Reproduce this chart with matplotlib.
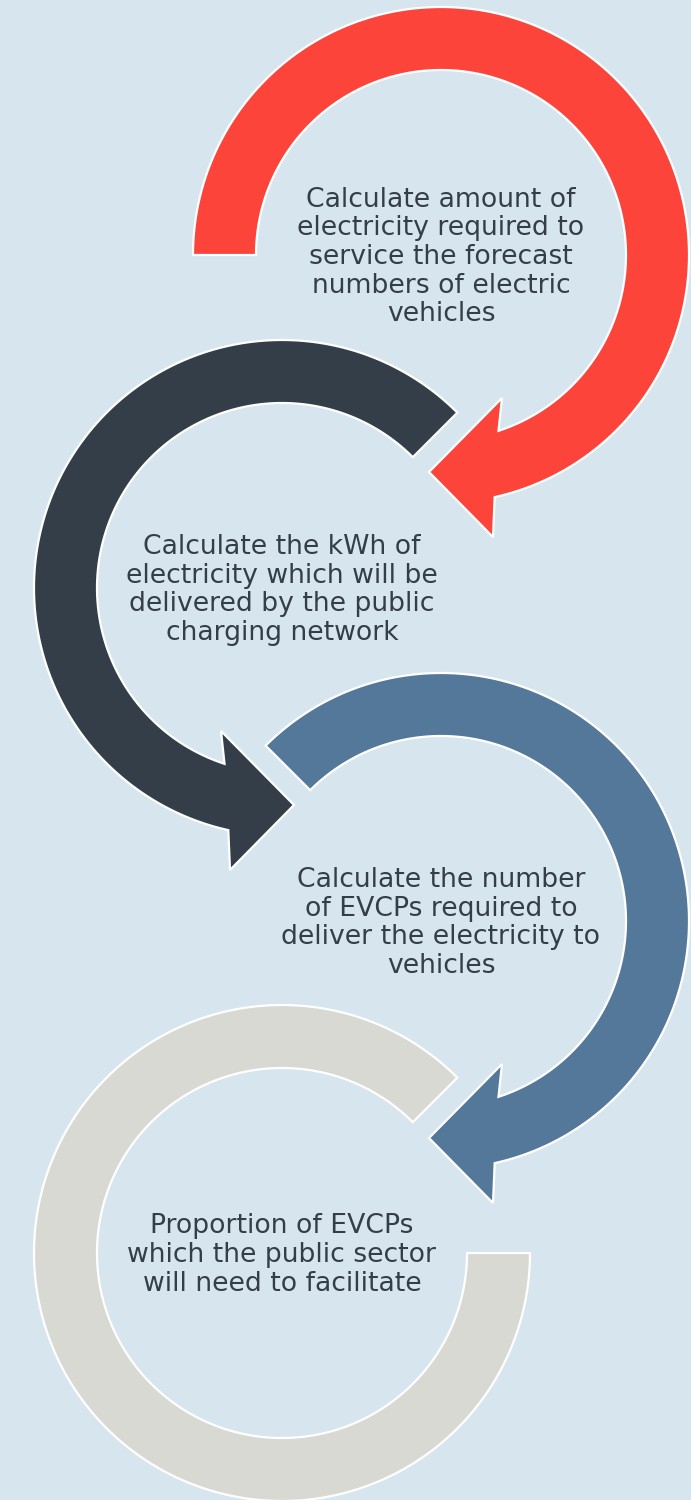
import numpy as np
import matplotlib.pyplot as plt
from matplotlib.patches import Polygon

# step texts and colours, top to bottom
steps = [
    "Calculate amount of\nelectricity required to\nservice the forecast\nnumbers of electric\nvehicles",
    "Calculate the kWh of\nelectricity which will be\ndelivered by the public\ncharging network",
    "Calculate the number\nof EVCPs required to\ndeliver the electricity to\nvehicles",
    "Proportion of EVCPs\nwhich the public sector\nwill need to facilitate",
]
colors = ["#fc443b", "#343e48", "#537899", "#d9d9d4"]
bg = "#d7e5ee"
text_col = "#343e48"

R_OUT = 248
R_IN = 185
# arrow head (bottom, tip, top) relative to centre, screen px
HEAD = [(52, 282), (-12, 217), (61, 143)]


def arrow_pts(a_start, a_out_end, a_in_end, head):
    th_o = np.radians(np.linspace(a_start, a_out_end, 300))
    th_i = np.radians(np.linspace(a_in_end, a_start, 300))
    pts = list(zip(R_OUT * np.cos(th_o), -R_OUT * np.sin(th_o)))
    pts += head
    pts += list(zip(R_IN * np.cos(th_i), -R_IN * np.sin(th_i)))
    return np.array(pts)


fig = plt.figure(figsize=(6.91, 15), dpi=100)
fig.patch.set_facecolor(bg)
ax = fig.add_axes([0, 0, 1, 1])
ax.set_xlim(0, 691)
ax.set_ylim(1500, 0)
ax.axis("off")

centers = [(441, 255), (282, 588), (441, 921), (282, 1253)]
for i, (cx, cy) in enumerate(centers):
    if i == 0:
        pts = arrow_pts(180, -77.5, -71.9, HEAD)
    elif i == 3:
        pts = arrow_pts(135, -180, -180, [])
    else:
        pts = arrow_pts(135, -77.5, -71.9, HEAD)
    if i % 2 == 1:
        pts[:, 0] = -pts[:, 0]
    pts = pts + [cx, cy]
    ax.add_patch(Polygon(pts, closed=True, facecolor=colors[i],
                         edgecolor="white", linewidth=1.6, joinstyle="miter"))
    ax.text(cx, cy + 2, steps[i], ha="center", va="center", color=text_col,
            fontsize=19.2, family="DejaVu Sans", linespacing=1.13)

fig.savefig("out.png", dpi=100, facecolor=bg)
